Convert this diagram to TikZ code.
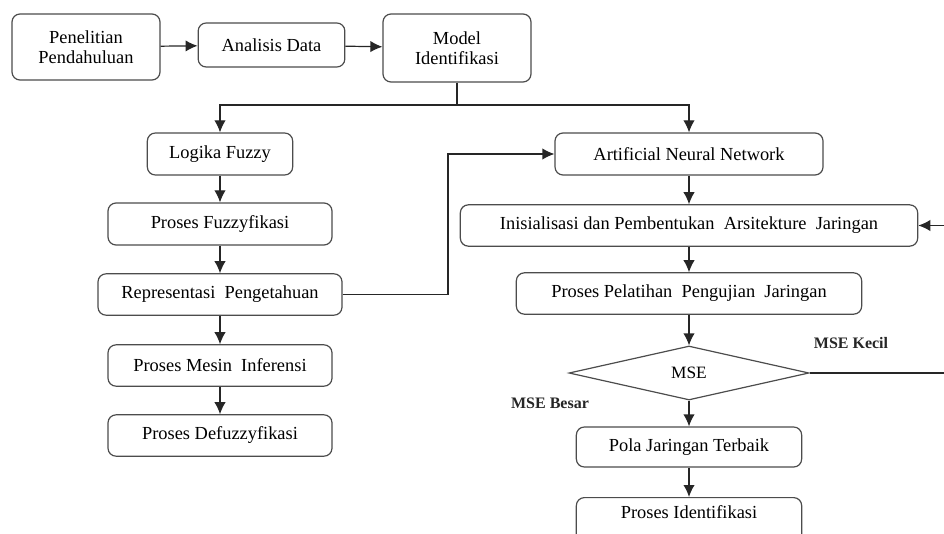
\documentclass[tikz,border=0pt]{standalone}
\usepackage{fontspec}
\setmainfont{Liberation Serif}
\usetikzlibrary{arrows.meta,shapes.geometric}

\begin{document}
\begin{tikzpicture}[x=0.75pt, y=-0.75pt, >={Latex[length=9pt,width=8.5pt]},
  box/.style={draw=black!70, line width=0.9pt, rounded corners=6pt, align=center, inner sep=2pt, font=\fontsize{13.8}{15}\selectfont},
  flow/.style={->, line width=0.9pt, draw=black!85},
  lbl/.style={font=\fontsize{12}{14}\selectfont\bfseries, text=black!85}]
\useasboundingbox (0,0) rectangle (944,534);
\clip (0,0) rectangle (944,534);

% top row
\node[box, minimum width=111pt, minimum height=49.5pt] (pen) at (86,47) {Penelitian\\Pendahuluan};
\node[box, minimum width=110pt, minimum height=33pt] (ana) at (271.5,45) {Analisis Data};
\node[box, minimum width=111pt, minimum height=51pt] (mod) at (457,48) {Model\\Identifikasi};
\draw[flow] (pen) -- (ana);
\draw[flow] (ana) -- (mod);

% fuzzy branch
\node[box, minimum width=109pt, minimum height=31.5pt] (log) at (220,154) {Logika Fuzzy};
\node[box, minimum width=168pt, minimum height=31.5pt] (fuz) at (220,224) {Proses Fuzzyfikasi};
\node[box, minimum width=183pt, minimum height=31pt] (rep) at (220,294.5) {Representasi\ \ Pengetahuan};
\node[box, minimum width=168pt, minimum height=31pt] (mes) at (220,365.5) {Proses Mesin\ \ Inferensi};
\node[box, minimum width=168pt, minimum height=31pt] (def) at (220,435.5) {Proses Defuzzyfikasi};

% neural network branch
\node[box, minimum width=201pt, minimum height=31.5pt] (ann) at (689,154) {Artificial Neural Network};
\node[box, minimum width=343pt, minimum height=31pt] (ini) at (689,225.5) {Inisialisasi dan Pembentukan\ \ Arsitekture\ \ Jaringan};
\node[box, minimum width=259pt, minimum height=31pt] (pel) at (689,293.5) {Proses Pelatihan\ \ Pengujian\ \ Jaringan};
\node[draw=black!70, line width=0.9pt, diamond, aspect=4.4, inner sep=0pt, minimum width=180pt, minimum height=40.5pt, font=\fontsize{13}{14}\selectfont] (mse) at (689,373) {MSE};
\node[box, minimum width=169pt, minimum height=30pt] (pol) at (689,447) {Pola Jaringan Terbaik};
% last box runs off the bottom edge
\node[box, minimum width=169pt, anchor=north, text height=14pt, text depth=22pt] (ide) at (689,497) {Proses Identifikasi};
\node[lbl] (kecil) at (851,343) {MSE Kecil};
\node[lbl] (besar) at (550,403) {MSE Besar};

% split below the model box
\coordinate (split) at (457,105);
\draw[line width=0.9pt, draw=black!85] (mod) -- (split);
\draw[flow] (split) -| (log);
\draw[flow] (split) -| (ann);

\draw[flow] (log) -- (fuz);
\draw[flow] (fuz) -- (rep);
\draw[flow] (rep) -- (mes);
\draw[flow] (mes) -- (def);
\draw[flow] (rep.east) -- (448,294.5) |- (ann.west);

\draw[flow] (ann) -- (ini);
\draw[flow] (ini) -- (pel);
\draw[flow] (pel) -- (mse);
\draw[flow] (mse) -- (pol);
\draw[flow] (pol) -- (ide);
\coordinate (back) at (952,373);
\draw[flow] (mse.east) -- (back) |- (ini.east);
\end{tikzpicture}
\end{document}
